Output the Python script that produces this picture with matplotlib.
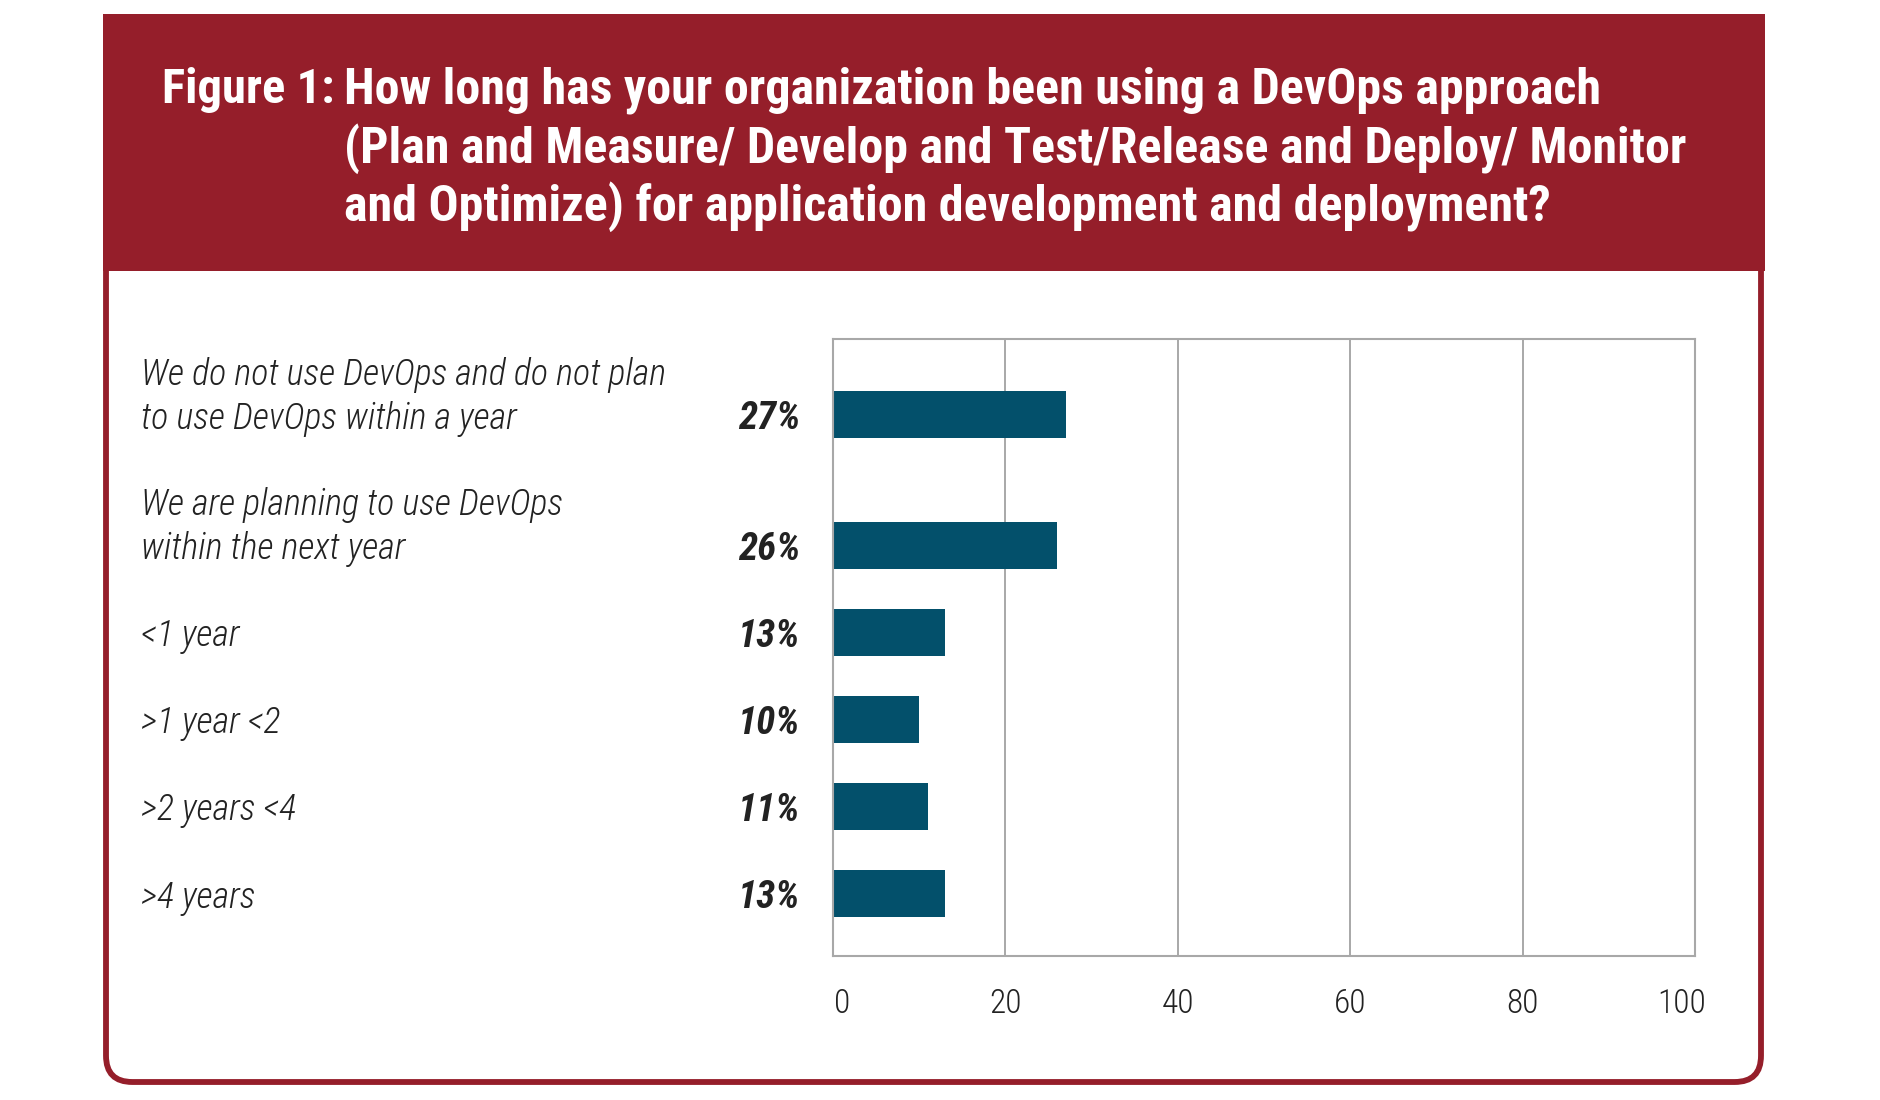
import matplotlib
matplotlib.use("Agg")
import matplotlib.pyplot as plt
from matplotlib import font_manager
from matplotlib.patches import Rectangle, FancyBboxPatch
from matplotlib.transforms import ScaledTranslation

# Survey answers, top to bottom as in the figure
categories = [
    "We do not use DevOps and do not plan\nto use DevOps within a year",
    "We are planning to use DevOps\nwithin the next year",
    "<1 year",
    ">1 year <2",
    ">2 years <4",
    ">4 years",
]
values = [27, 26, 13, 10, 11, 13]
ticks = [0, 20, 40, 60, 80, 100]

title_lead = "Figure 1:"
title_lines = [
    "How long has your organization been using a DevOps approach",
    "(Plan and Measure/ Develop and Test/Release and Deploy/ Monitor",
    "and Optimize) for application development and deployment?",
]

RED = "#951e2a"
BAR = "#03506b"
GRID = "#a8a8a8"
TXT = "#222222"

# a narrow font looks closest to the condensed original
installed = {f.name for f in font_manager.fontManager.ttflist}
FONT = "DejaVu Sans"
for name in ["Roboto Condensed", "Liberation Sans Narrow", "DejaVu Sans Condensed", "Roboto"]:
    if name in installed:
        FONT = name
        break
FAM = [FONT, "DejaVu Sans"]

W, H = 1880, 1100
fig = plt.figure(figsize=(W / 100, H / 100), dpi=100)


def fx(px):
    return px / W


def fy(py):
    return 1 - py / H


# outer frame with rounded bottom corners
frame = FancyBboxPatch((fx(106), fy(1082)), fx(1761) - fx(106), fy(40) - fy(1082),
                       boxstyle="round,pad=0,rounding_size=0.014",
                       transform=fig.transFigure, facecolor="white",
                       edgecolor=RED, linewidth=4.2, mutation_aspect=W / H, zorder=-2)
fig.patches.append(frame)
# red header band
header = Rectangle((fx(103), fy(271)), fx(1765) - fx(103), fy(14) - fy(271),
                   transform=fig.transFigure, facecolor=RED, edgecolor="none", zorder=-1)
fig.patches.append(header)

fig.text(fx(162), fy(90), title_lead, color="white", fontsize=35, fontweight="bold",
         family=FAM, va="center", ha="left")
for i, line in enumerate(title_lines):
    fig.text(fx(344), fy(90 + 58.5 * i), line, color="white", fontsize=36,
             fontweight="bold", family=FAM, va="center", ha="left")

# bar chart area
ax = fig.add_axes([fx(833), fy(956), fx(1695) - fx(833), fy(339) - fy(956)])
# first gap is wider because of the two-line labels
ypos = [5.5, 4, 3, 2, 1, 0]
ax.barh(ypos, values, height=0.54, color=BAR)
ax.set_xlim(0, 100)
ax.set_ylim(-0.72, 6.37)
ax.set_xticks(ticks)
ax.set_xticklabels([str(t) for t in ticks], family=FAM, fontsize=24, color=TXT,
                   fontweight="light")
ax.set_yticks([])
ax.tick_params(axis="x", length=0, pad=23)
# end labels sit a little inside the axis ends
xlabels = ax.get_xticklabels()
xlabels[0].set_transform(xlabels[0].get_transform() + ScaledTranslation(0.09, 0, fig.dpi_scale_trans))
xlabels[-1].set_transform(xlabels[-1].get_transform() + ScaledTranslation(-0.13, 0, fig.dpi_scale_trans))
for t in ticks[1:-1]:
    ax.axvline(t, color=GRID, lw=1.4, zorder=0)
for s in ax.spines.values():
    s.set_color(GRID)
    s.set_linewidth(1.5)

tr = ax.get_yaxis_transform()
for cat, v, y in zip(categories, values, ypos):
    lines = cat.split("\n")
    for k, line in enumerate(reversed(lines)):
        ax.annotate(line, xy=(-0.803, y), xycoords=tr, xytext=(0, 31.8 * k - 3),
                    textcoords="offset points", ha="left", va="center",
                    fontsize=26, style="italic", fontweight="light", family=FAM, color=TXT)
    ax.annotate(f"{v}%", xy=(-0.038, y), xycoords=tr, xytext=(0, -3),
                textcoords="offset points", ha="right", va="center",
                fontsize=28, style="italic", fontweight="bold", family=FAM, color=TXT)

fig.savefig("out.png", dpi=100)
